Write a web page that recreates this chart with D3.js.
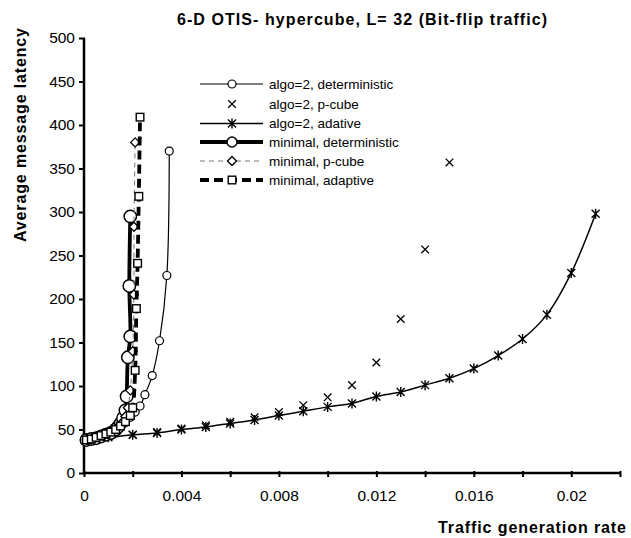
<!DOCTYPE html>
<html>
<head>
<meta charset="utf-8">
<script src="https://cdn.jsdelivr.net/npm/d3@7"></script>
<style>
body{margin:0;background:#fff;}
svg{display:block;font-family:Arial,"Liberation Sans",sans-serif;}
</style>
</head>
<body>
<svg id="chart" width="631" height="538"></svg>
<script>
// ---- data ----
const titleText = "6-D OTIS- hypercube, L= 32 (Bit-flip traffic)";
const xLabel = "Traffic generation rate";
const yLabel = "Average message latency";
const xTickValues = [0, 0.004, 0.008, 0.012, 0.016, 0.02];
const xMinorTicks = [0, 0.002, 0.004, 0.006, 0.008, 0.01, 0.012, 0.014, 0.016, 0.018, 0.02, 0.022];
const xTickLabels = ["0", "0.004", "0.008", "0.012", "0.016", "0.02"];
const yTickValues = [0, 50, 100, 150, 200, 250, 300, 350, 400, 450, 500];

const seriesNames = ["algo=2, deterministic", "algo=2, p-cube", "algo=2, adative",
  "minimal, deterministic", "minimal, p-cube", "minimal, adaptive"];

const algoDetX = [0.0001,0.0003,0.0005,0.0007,0.0009,0.0011,0.0013,0.0015,0.0017,0.0019,0.0021,0.0023,0.0025,0.0028,0.0031,0.0034,0.0035];
const algoDetY = [38,39,40,42,44,46,49,53,58,64,70,77,90,112,152,227,370];

const algoPcubeX = [0.0001,0.0005,0.001,0.002,0.003,0.004,0.005,0.006,0.007,0.008,0.009,0.010,0.011,0.012,0.013,0.014,0.015];
const algoPcubeY = [38,40,42,44,47,51,55,59,64,70,78,87,101,127,177,257,357];

const algoAdaX = [0.0001,0.0005,0.001,0.002,0.003,0.004,0.005,0.006,0.007,0.008,0.009,0.010,0.011,0.012,0.013,0.014,0.015,0.016,0.017,0.018,0.019,0.020,0.021];
const algoAdaY = [38,40,41,44,46,50,53,57,61,66,71,76,80,88,93,101,109,120,135,154,182,230,298];

const minDetX = [0.0001,0.0003,0.0005,0.0007,0.0009,0.0011,0.0013,0.0014,0.0015,0.0016,0.0017,0.00175,0.0018,0.0019,0.00186,0.0019];
const minDetY = [38,39,40,42,44,46,50,53,57,63,72,88,133,157,215,295];

const minPcubeX = [0.0001,0.0003,0.0005,0.0007,0.0009,0.0011,0.0013,0.0015,0.0016,0.0017,0.0018,0.0019,0.0020,0.00205,0.00205,0.0021];
const minPcubeY = [38,39,41,43,45,48,51,55,59,65,75,95,140,205,283,380];

const minAdaX = [0.0001,0.0003,0.0005,0.0007,0.0009,0.0011,0.0013,0.0015,0.0017,0.0019,0.0020,0.0021,0.00215,0.0022,0.00225,0.0023];
const minAdaY = [38,39,41,43,45,47,50,54,59,66,75,118,189,241,318,409];

// ---- chart ----
const svg = d3.select("#chart");
const x = d3.scaleLinear().domain([0, 0.022]).range([84, 620]);
const y = d3.scaleLinear().domain([0, 500]).range([473, 38]);

const zip = (xs, ys) => xs.map((v, i) => [v, ys[i]]);

// title
svg.append("text").attr("x", 362).attr("y", 25).attr("text-anchor", "middle")
  .attr("font-size", 16).attr("font-weight", "bold")
  .attr("textLength", 370).attr("lengthAdjust", "spacing").text(titleText);

// y label
svg.append("text").attr("transform", "translate(26,28) rotate(-90)")
  .attr("text-anchor", "end").attr("font-size", 16).attr("font-weight", "bold")
  .attr("textLength", 214).attr("lengthAdjust", "spacing").text(yLabel);

// x label
svg.append("text").attr("x", 626).attr("y", 533).attr("text-anchor", "end")
  .attr("font-size", 16).attr("font-weight", "bold")
  .attr("textLength", 188).attr("lengthAdjust", "spacing").text(xLabel);

// axes
const yAxis = d3.axisLeft(y).tickValues(yTickValues).tickSize(5).tickPadding(4).tickFormat(d3.format("d"));
const gy = svg.append("g").attr("transform", `translate(${x(0)},0)`).call(yAxis);
gy.select(".domain").remove();
gy.selectAll(".tick line").attr("stroke", "#000").attr("stroke-width", 2).attr("x2", -5).attr("x1", 1);
gy.selectAll(".tick text").attr("font-size", 15.5).attr("font-family", "Arial, Liberation Sans").attr("fill", "#000");

const xAxisMinor = d3.axisBottom(x).tickValues(xMinorTicks).tickSize(5).tickFormat("");
const gxm = svg.append("g").attr("transform", `translate(0,${y(0)})`).call(xAxisMinor);
gxm.select(".domain").remove();
gxm.selectAll(".tick line").attr("stroke", "#000").attr("stroke-width", 2).attr("y1", -2).attr("y2", 4);

const xAxis = d3.axisBottom(x).tickValues(xTickValues).tickSize(0).tickPadding(17)
  .tickFormat((d, i) => xTickLabels[i]);
const gx = svg.append("g").attr("transform", `translate(0,${y(0)})`).call(xAxis);
gx.select(".domain").remove();
gx.selectAll(".tick text").attr("font-size", 15.5).attr("font-family", "Arial, Liberation Sans").attr("fill", "#000");

svg.append("line").attr("x1", x(0)).attr("x2", x(0)).attr("y1", y(500)).attr("y2", y(0)+1)
  .attr("stroke", "#000").attr("stroke-width", 2.5);
svg.append("line").attr("x1", x(0)-1).attr("x2", x(0.022)).attr("y1", y(0)).attr("y2", y(0))
  .attr("stroke", "#000").attr("stroke-width", 2.5);

// markers
function drawMarker(g, type, cx, cy, opts) {
  const o = opts || {};
  if (type === "circle") {
    g.append("circle").attr("cx", cx).attr("cy", cy).attr("r", o.r || 4)
      .attr("fill", "#fff").attr("stroke", "#000").attr("stroke-width", 1.2);
  } else if (type === "bigcircle") {
    g.append("circle").attr("cx", cx).attr("cy", cy).attr("r", o.r || 6.2)
      .attr("fill", "#fff").attr("stroke", "#000").attr("stroke-width", 1.5);
  } else if (type === "cross") {
    const s = 3.8;
    g.append("path").attr("d", `M${cx-s},${cy-s}L${cx+s},${cy+s}M${cx-s},${cy+s}L${cx+s},${cy-s}`)
      .attr("stroke", "#000").attr("stroke-width", 1.3).attr("fill", "none");
  } else if (type === "star") {
    const s = 4;
    g.append("path").attr("d", `M${cx-s},${cy-s}L${cx+s},${cy+s}M${cx-s},${cy+s}L${cx+s},${cy-s}M${cx},${cy-s-1}L${cx},${cy+s+1}`)
      .attr("stroke", "#000").attr("stroke-width", 1.4).attr("fill", "none");
  } else if (type === "diamond") {
    const s = 4.5;
    g.append("path").attr("d", `M${cx},${cy-s}L${cx+s},${cy}L${cx},${cy+s}L${cx-s},${cy}Z`)
      .attr("stroke", "#000").attr("stroke-width", 1.3).attr("fill", "#fff");
  } else if (type === "square") {
    const s = 3.8;
    g.append("rect").attr("x", cx-s).attr("y", cy-s).attr("width", 2*s).attr("height", 2*s)
      .attr("stroke", "#000").attr("stroke-width", 1.4).attr("fill", "#fff");
  }
}

const styles = [
  {xs: algoDetX, ys: algoDetY, line: true, sw: 1.2, dash: null, color: "#000", marker: "circle"},
  {xs: algoPcubeX, ys: algoPcubeY, line: false, marker: "cross"},
  {xs: algoAdaX, ys: algoAdaY, line: true, sw: 1.5, dash: null, color: "#000", marker: "star"},
  {xs: minDetX, ys: minDetY, line: true, sw: 3.8, dash: null, color: "#000", marker: "bigcircle"},
  {xs: minPcubeX, ys: minPcubeY, line: true, sw: 1, dash: "5,4", color: "#777", marker: "diamond"},
  {xs: minAdaX, ys: minAdaY, line: true, sw: 3.8, dash: "9,5", color: "#000", marker: "square"}
];

const lineGen = d3.line().x(d => x(d[0])).y(d => y(d[1])).curve(d3.curveCatmullRom.alpha(0.5));
const plot = svg.append("g");
styles.forEach(s => {
  const pts = zip(s.xs, s.ys);
  if (s.line) {
    plot.append("path").datum(pts).attr("d", lineGen).attr("fill", "none")
      .attr("stroke", s.color).attr("stroke-width", s.sw)
      .attr("stroke-dasharray", s.dash);
  }
  pts.forEach(p => drawMarker(plot, s.marker, x(p[0]), y(p[1])));
});

// legend
const legRows = [84, 104, 123.5, 142, 161, 180];
const lg = svg.append("g");
styles.forEach((s, i) => {
  const yy = legRows[i];
  if (s.line) {
    lg.append("line").attr("x1", 200).attr("x2", 263).attr("y1", yy).attr("y2", yy)
      .attr("stroke", s.color).attr("stroke-width", s.sw).attr("stroke-dasharray", s.dash);
  }
  drawMarker(lg, s.marker, 232, yy, {r: s.marker === "bigcircle" ? 5 : 4});
  lg.append("text").attr("x", 269).attr("y", yy + 4.5).attr("font-size", 13.5).text(seriesNames[i]);
});
</script>
</body>
</html>
